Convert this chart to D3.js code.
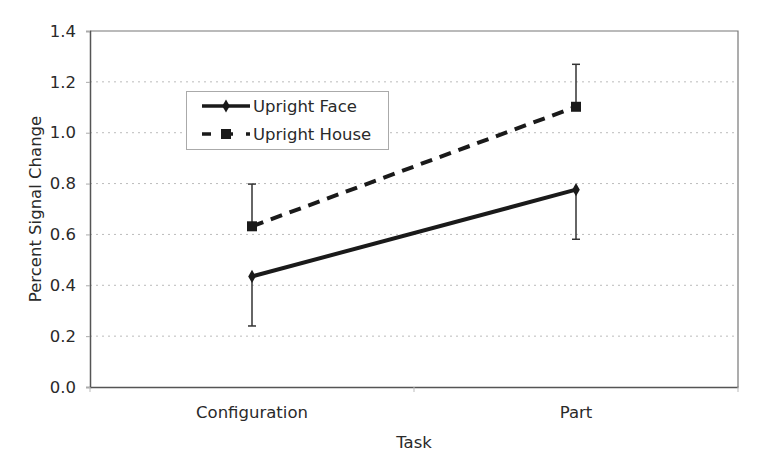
<!DOCTYPE html>
<html>
<head>
<meta charset="utf-8">
<script src="https://cdn.jsdelivr.net/npm/d3@7"></script>
<style>
  body { margin: 0; background: #fff; }
  svg text { font-family: "DejaVu Sans", Verdana, sans-serif; fill: #2a2a2a; }
</style>
</head>
<body>
<div id="chart"></div>
<script>
// Data
const tasks = ["Configuration", "Part"];
const faceValues = [0.435, 0.776];
const faceErr = [0.195, 0.195];      // drawn downward only
const houseValues = [0.632, 1.102];
const houseErr = [0.166, 0.167];     // drawn upward only
const yTicks = [0, 0.2, 0.4, 0.6, 0.8, 1.0, 1.2, 1.4];

const width = 761;
const height = 453;
const margin = {left: 90, right: 23, top: 31, bottom: 66};
const fontSize = "16.5px";

let svg = d3.select("#chart")
  .append("svg")
  .attr("width", width)
  .attr("height", height);

// Scales
let xScale = d3.scaleBand()
  .domain(tasks)
  .range([margin.left, width - margin.right]);

let yScale = d3.scaleLinear()
  .domain([0, 1.4])
  .range([height - margin.bottom, margin.top]);

const xPos = d => xScale(d) + xScale.bandwidth() / 2;

// Gridlines
svg.append("g")
  .selectAll("line")
  .data(yTicks.slice(1, -1))
  .enter()
  .append("line")
    .attr("x1", margin.left)
    .attr("x2", width - margin.right)
    .attr("y1", d => yScale(d))
    .attr("y2", d => yScale(d))
    .attr("stroke", "#bbb")
    .attr("stroke-width", 1)
    .attr("stroke-dasharray", "2,4");

// Plot frame (top and right)
svg.append("path")
  .attr("d", `M${margin.left},${margin.top}H${width - margin.right}V${height - margin.bottom}`)
  .attr("fill", "none")
  .attr("stroke", "#777")
  .attr("stroke-width", 1.2);

// Y axis
let yAxis = svg.append("g")
  .attr("transform", `translate(${margin.left},0)`)
  .call(d3.axisLeft(yScale).tickValues(yTicks).tickFormat(d3.format(".1f")).tickSize(4).tickPadding(10));
yAxis.select(".domain").attr("stroke", "#555").attr("stroke-width", 1.5);
yAxis.selectAll(".tick line").attr("stroke", "#aaa");
yAxis.selectAll("text").attr("font-size", fontSize).style("font-family", "DejaVu Sans");

// X axis
let xAxis = svg.append("g")
  .attr("transform", `translate(0,${height - margin.bottom})`)
  .call(d3.axisBottom(xScale).tickSize(0).tickPadding(19));
xAxis.select(".domain").attr("stroke", "#555").attr("stroke-width", 1.5);
xAxis.selectAll("text").attr("font-size", fontSize).style("font-family", "DejaVu Sans");

// Category boundary ticks
svg.append("g")
  .selectAll("line")
  .data([0, 1, 2])
  .enter()
  .append("line")
    .attr("x1", i => margin.left + i * xScale.bandwidth())
    .attr("x2", i => margin.left + i * xScale.bandwidth())
    .attr("y1", height - margin.bottom)
    .attr("y2", height - margin.bottom + 5)
    .attr("stroke", "#bbb");

// Axis titles
svg.append("text")
  .attr("x", (margin.left + width - margin.right) / 2)
  .attr("y", 448)
  .attr("text-anchor", "middle")
  .attr("font-size", fontSize)
  .text("Task");

svg.append("text")
  .attr("transform", `translate(41,${(margin.top + height - margin.bottom) / 2}) rotate(-90)`)
  .attr("text-anchor", "middle")
  .attr("font-size", fontSize)
  .text("Percent Signal Change");

// Error bars
function errorBars(values, errs, dir) {
  let g = svg.append("g").attr("stroke", "#333").attr("stroke-width", 1.5);
  tasks.forEach((t, i) => {
    let x = xPos(t);
    let y0 = yScale(values[i]);
    let y1 = yScale(values[i] + dir * errs[i]);
    g.append("line").attr("x1", x).attr("x2", x).attr("y1", y0).attr("y2", y1);
    g.append("line").attr("x1", x - 4).attr("x2", x + 4).attr("y1", y1).attr("y2", y1);
  });
}
errorBars(faceValues, faceErr, -1);
errorBars(houseValues, houseErr, 1);

// Lines
let line = d3.line()
  .x((d, i) => xPos(tasks[i]))
  .y(d => yScale(d));

svg.append("path")
  .datum(faceValues)
  .attr("d", line)
  .attr("fill", "none")
  .attr("stroke", "#1a1a1a")
  .attr("stroke-width", 4);

svg.append("path")
  .datum(houseValues)
  .attr("d", line)
  .attr("fill", "none")
  .attr("stroke", "#1a1a1a")
  .attr("stroke-width", 4)
  .attr("stroke-dasharray", "12,8");

// Markers
svg.selectAll(".face-pt")
  .data(faceValues)
  .enter()
  .append("path")
    .attr("class", "face-pt")
    .attr("d", d3.symbol(d3.symbolDiamond, 50))
    .attr("transform", (d, i) => `translate(${xPos(tasks[i])},${yScale(d)})`)
    .attr("fill", "#1a1a1a");

svg.selectAll(".house-pt")
  .data(houseValues)
  .enter()
  .append("rect")
    .attr("class", "house-pt")
    .attr("x", (d, i) => xPos(tasks[i]) - 5)
    .attr("y", d => yScale(d) - 5)
    .attr("width", 10)
    .attr("height", 10)
    .attr("fill", "#1a1a1a");

// Legend
let legend = svg.append("g");
legend.append("rect")
  .attr("x", 186.5)
  .attr("y", 91.5)
  .attr("width", 202)
  .attr("height", 58)
  .attr("fill", "#fff")
  .attr("stroke", "#aaa");

legend.append("line")
  .attr("x1", 202).attr("x2", 250).attr("y1", 106).attr("y2", 106)
  .attr("stroke", "#1a1a1a").attr("stroke-width", 3.5);
legend.append("path")
  .attr("d", d3.symbol(d3.symbolDiamond, 50))
  .attr("transform", "translate(226,106)")
  .attr("fill", "#1a1a1a");
legend.append("text")
  .attr("x", 253).attr("y", 112)
  .attr("font-size", fontSize)
  .text("Upright Face");

legend.append("line")
  .attr("x1", 202).attr("x2", 250).attr("y1", 134).attr("y2", 134)
  .attr("stroke", "#1a1a1a").attr("stroke-width", 3.5)
  .attr("stroke-dasharray", "9,13");
legend.append("rect")
  .attr("x", 221).attr("y", 129).attr("width", 10).attr("height", 10)
  .attr("fill", "#1a1a1a");
legend.append("text")
  .attr("x", 253).attr("y", 140)
  .attr("font-size", fontSize)
  .text("Upright House");
</script>
</body>
</html>
